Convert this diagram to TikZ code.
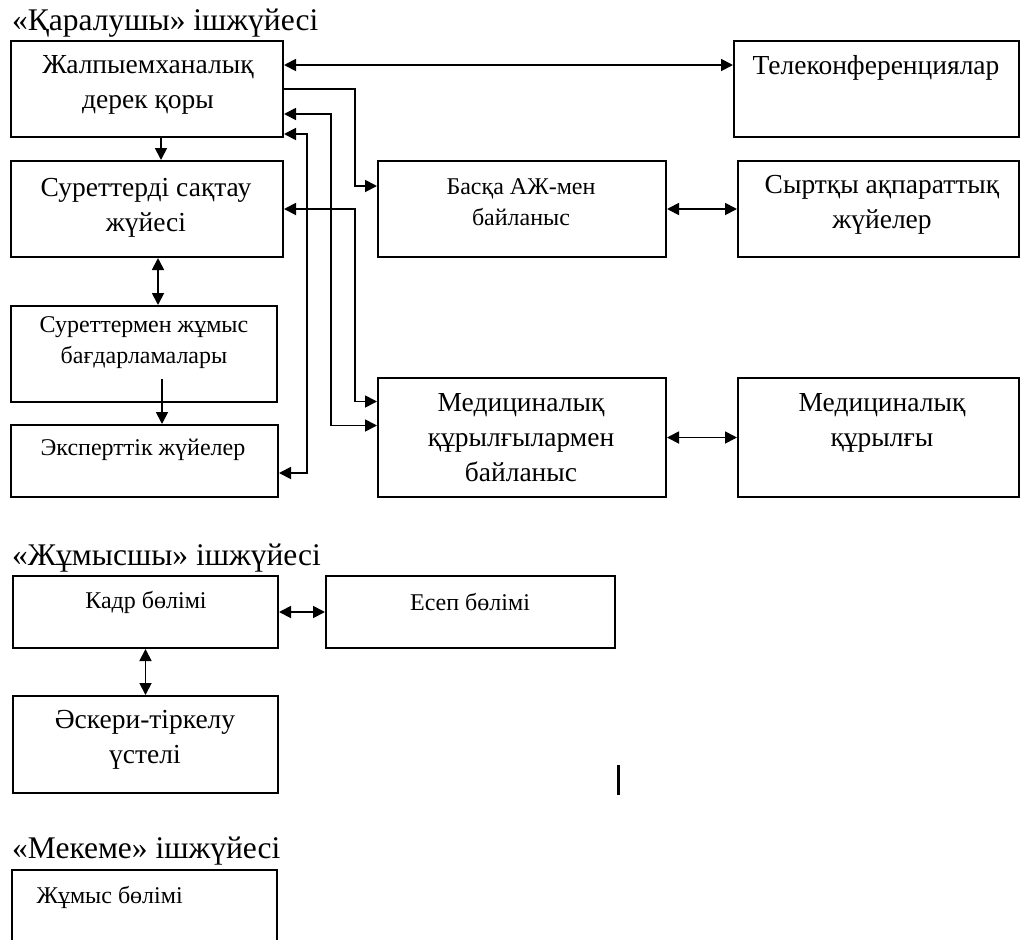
\documentclass[tikz,border=0pt]{standalone}
\usepackage{fontspec}
\setmainfont{Liberation Serif}
\usetikzlibrary{arrows.meta}

\begin{document}
\begin{tikzpicture}[x=1pt, y=-1pt,
    >={Triangle[length=12pt,width=12pt]},
    box/.style={draw, line width=2pt, anchor=north west, inner sep=0pt},
    txt/.style={align=center, font=\fontsize{27.5}{35}\selectfont},
    small/.style={align=center, font=\fontsize{24}{31}\selectfont},
    ttl/.style={anchor=base west, inner sep=0pt, font=\fontsize{31.5}{36}\selectfont},
    link/.style={line width=1.8pt}]
    \path[use as bounding box] (0,0) rectangle (1020,940);

    \node[ttl] (t1) at (12,30) {«Қаралушы» ішжүйесі};
    \node[box, minimum width=272pt, minimum height=96pt] (db) at (10,40) {};
    \node[box, minimum width=285pt, minimum height=96pt] (tele) at (733,40) {};
    \node[box, minimum width=272pt, minimum height=96pt] (sur) at (10,160) {};
    \node[box, minimum width=288pt, minimum height=96pt] (baska) at (377,160) {};
    \node[box, minimum width=281pt, minimum height=96pt] (syrt) at (737,160) {};
    \node[box, minimum width=266pt, minimum height=96pt] (prog) at (10,305) {};
    \node[box, minimum width=267pt, minimum height=72pt] (expert) at (10,424) {};
    \node[box, minimum width=288pt, minimum height=119pt] (medic) at (377,377) {};
    \node[box, minimum width=281pt, minimum height=119pt] (medq) at (737,377) {};

    \node[txt] (dbt) at (148,85) {Жалпыемханалық\\дерек қоры};
    \node[txt] (telet) at (876,68) {Телеконференциялар};
    \node[txt] (surt) at (146,208) {Суреттерді сақтау\\жүйесі};
    \node[small] (baskat) at (521,202) {Басқа АЖ-мен\\байланыс};
    \node[txt] (syrtt) at (882,205) {Сыртқы ақпараттық\\жүйелер};
    \node[small] (progt) at (144,343) {Суреттермен жұмыс\\бағдарламалары};
    \node[small] (expertt) at (143,450) {Эксперттік жүйелер};
    \node[txt] (medict) at (521,438) {Медициналық\\құрылғылармен\\байланыс};
    \node[txt] (medqt) at (882,423) {Медициналық\\құрылғы};

    \draw[link,<->] ([yshift=24pt]db.east) -- ([yshift=24pt]tele.west);
    \draw[link,->] (db.east) -- ++(71,0) |- ([yshift=23pt]baska.west);
    \draw[link,<->] ([yshift=-25pt]db.east) -- ++(47,0) |- ([yshift=12pt]medic.west);
    \draw[link,<->] ([yshift=-45pt]db.east) -- ++(23,0) |- ([yshift=-12pt]expert.east);
    \draw[link,<->] (sur.east) -- ++(71,0) |- ([yshift=36pt]medic.west);
    \draw[link,->] ([xshift=14pt]db.south) -- ([xshift=14pt]sur.north);
    \draw[link,<->] ([xshift=11pt]sur.south) -- ([xshift=11pt]sur.south |- prog.north);
    \draw[link,->] ([xshift=18pt,yshift=24pt]prog.south) -- ([xshift=18pt]prog.south |- expert.north);
    \draw[link,<->] (baska.east) -- (baska.east -| syrt.west);
    \draw[link,<->] (medic.east) -- (medic.east -| medq.west);

    \node[ttl] (t2) at (12,565) {«Жұмысшы» ішжүйесі};
    \node[box, minimum width=265pt, minimum height=72pt] (kadr) at (12,575) {};
    \node[box, minimum width=289pt, minimum height=72pt] (esep) at (325,575) {};
    \node[box, minimum width=265pt, minimum height=97pt] (asker) at (12,695) {};
    \node[small] (kadrt) at (146,602) {Кадр бөлімі};
    \node[small] (esept) at (470,602) {Есеп бөлімі};
    \node[txt] (askert) at (145,740) {Әскери-тіркелу\\үстелі};
    \draw[link,<->] (kadr.east) -- (kadr.east -| esep.west);
    \draw[link,<->] (kadr.south) -- (kadr.south |- asker.north);
    \draw[line width=3pt] (618,765) -- (618,795);

    \node[ttl] (t3) at (12,858) {«Мекеме» ішжүйесі};
    \node[anchor=north west, inner sep=0pt, minimum width=265pt, minimum height=70pt] (jumys) at (12,870) {};
    \draw[line width=2pt] (jumys.south west) |- (jumys.north east) -- (jumys.south east);
    \node[small, anchor=west] (jumyst) at (33,897) {Жұмыс бөлімі};
\end{tikzpicture}
\end{document}
